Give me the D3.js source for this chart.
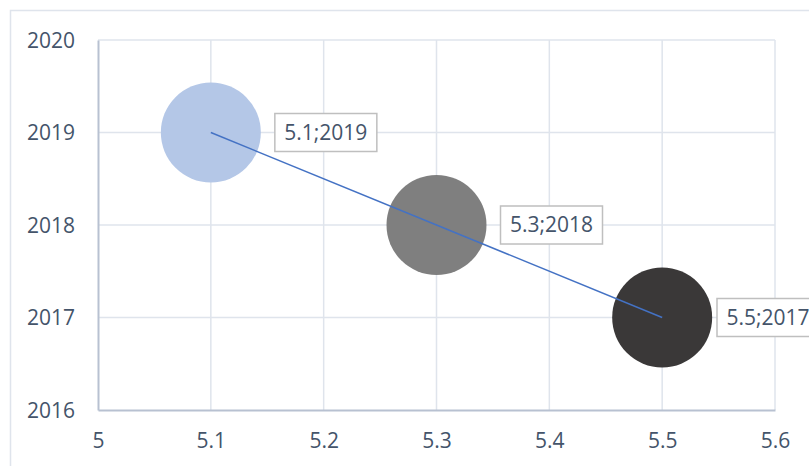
<!DOCTYPE html>
<html>
<head>
<meta charset="utf-8">
<script src="https://cdn.jsdelivr.net/npm/d3@7"></script>
<style>
  html, body { margin: 0; padding: 0; background: #ffffff; }
  svg { display: block; }
  text { font-family: "Open Sans", "Liberation Sans", sans-serif; }
</style>
</head>
<body>
<script>
// Bubble series: x value, y value (year), bubble size, fill colour
const xValues = [5.1, 5.3, 5.5];
const yValues = [2019, 2018, 2017];
const sizes = [1, 1, 1];
const colors = ["#b4c7e7", "#7f7f7f", "#3a3838"];
const xTicks = [5, 5.1, 5.2, 5.3, 5.4, 5.5, 5.6];
const yTicks = [2016, 2017, 2018, 2019, 2020];

const W = 809, H = 466;
const frame = { left: 10, top: 10, right: 819, bottom: 480 };
const plot = { left: 98, right: 775, top: 40, bottom: 410 };
const textColor = "#44546a";
const fontSize = 21;

const svg = d3.select("body").append("svg")
  .attr("width", W).attr("height", H);

svg.append("rect").attr("width", W).attr("height", H).attr("fill", "#fff");

// Chart area border
svg.append("rect")
  .attr("x", frame.left + 0.5).attr("y", frame.top + 0.5)
  .attr("width", frame.right - frame.left).attr("height", frame.bottom - frame.top)
  .attr("fill", "none").attr("stroke", "#dfe4ec").attr("stroke-width", 1.5);

const x = d3.scaleLinear().domain([5, 5.6]).range([plot.left, plot.right]);
const y = d3.scaleLinear().domain([2016, 2020]).range([plot.bottom, plot.top]);
const r = d3.scaleSqrt().domain([0, d3.max(sizes)]).range([0, 50]);

// Gridlines
const grid = svg.append("g").attr("stroke", "#dfe4ec").attr("stroke-width", 1.5);
grid.selectAll(".vg").data(xTicks.slice(1)).join("line")
  .attr("x1", d => x(d)).attr("x2", d => x(d))
  .attr("y1", plot.top).attr("y2", plot.bottom);
grid.selectAll(".hg").data(yTicks.slice(1)).join("line")
  .attr("x1", plot.left).attr("x2", plot.right)
  .attr("y1", d => y(d)).attr("y2", d => y(d));

// Axes
const xAxis = svg.append("g")
  .attr("transform", `translate(0,${plot.bottom})`)
  .call(d3.axisBottom(x).tickValues(xTicks).tickSize(0).tickPadding(23)
    .tickFormat(d => d3.format("~g")(d)));
const yAxis = svg.append("g")
  .attr("transform", `translate(${plot.left},0)`)
  .call(d3.axisLeft(y).tickValues(yTicks).tickSize(0).tickPadding(23)
    .tickFormat(d3.format("d")));

[xAxis, yAxis].forEach(a => {
  a.select(".domain").attr("stroke", "#b8c1d1").attr("stroke-width", 2);
  a.selectAll("text")
    .attr("fill", textColor)
    .style("font-size", fontSize + "px")
    .style("font-family", '"Open Sans", "Liberation Sans", sans-serif');
});
yAxis.selectAll("text").attr("dy", "0.35em");

const pts = xValues.map((v, i) => ({ x: v, y: yValues[i], s: sizes[i], c: colors[i] }));

// Bubbles
svg.append("g").selectAll("circle").data(pts).join("circle")
  .attr("cx", d => x(d.x)).attr("cy", d => y(d.y))
  .attr("r", d => r(d.s))
  .attr("fill", d => d.c);

// Connecting line through bubble centres
svg.append("path")
  .datum(pts)
  .attr("fill", "none")
  .attr("stroke", "#4472c4")
  .attr("stroke-width", 1.5)
  .attr("d", d3.line().x(d => x(d.x)).y(d => y(d.y)));

// Data labels in boxes to the right of each bubble
const boxW = 102, boxH = 38, gap = 14;
const labels = svg.append("g").selectAll("g").data(pts).join("g")
  .attr("transform", d => {
    let left = x(d.x) + r(d.s) + gap;
    left = Math.min(left, frame.right - boxW);
    return `translate(${left},${y(d.y) - boxH / 2})`;
  });
labels.append("rect")
  .attr("width", boxW).attr("height", boxH)
  .attr("fill", "#fff")
  .attr("stroke", "#bfbfbf").attr("stroke-width", 1.5);
labels.append("text")
  .attr("x", boxW / 2).attr("y", boxH / 2).attr("dy", "0.35em")
  .attr("text-anchor", "middle")
  .attr("fill", textColor)
  .style("font-size", fontSize + "px")
  .text(d => `${d.x};${d.y}`);
</script>
</body>
</html>
